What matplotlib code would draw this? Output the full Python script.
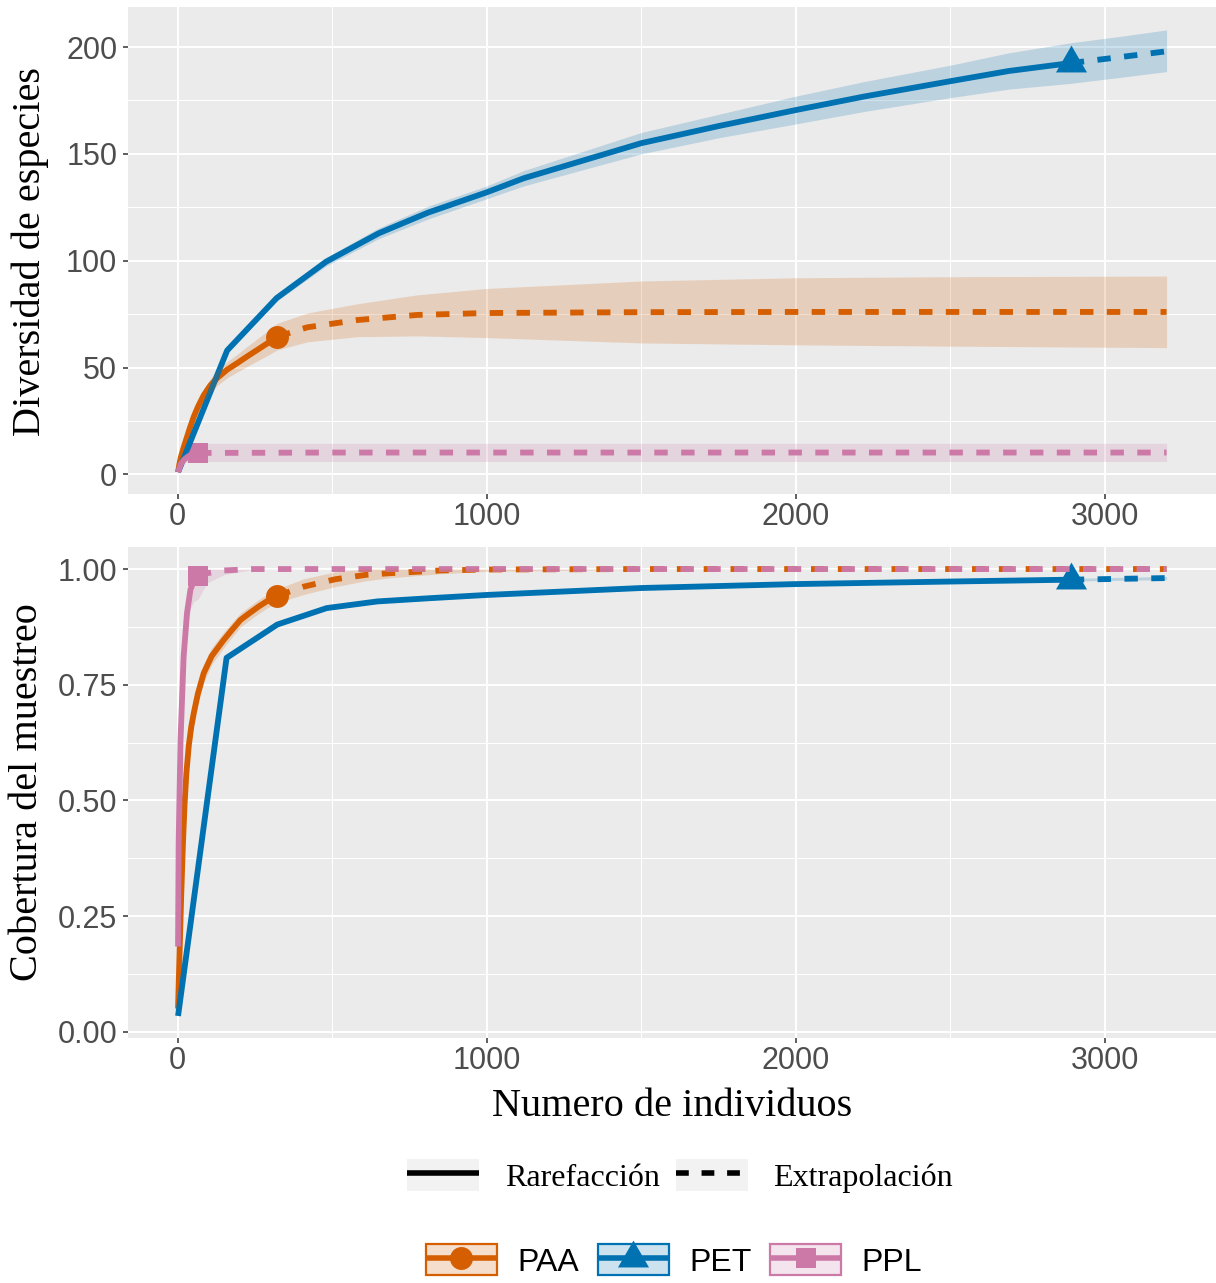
import matplotlib
matplotlib.use('Agg')
import matplotlib.pyplot as plt
from matplotlib.lines import Line2D
from matplotlib.patches import Patch
from matplotlib.legend_handler import HandlerTuple
from matplotlib.ticker import FixedLocator
import matplotlib.colors as mcolors

# ---------------- data ----------------
groups = ["PAA", "PET", "PPL"]
colors = {"PAA": "#D55E00", "PET": "#0072B2", "PPL": "#CC79A7"}

# Species diversity (top panel)
PAA_rare_n = [1, 5, 10, 20, 30, 40, 52, 65, 84, 105, 127, 160, 192, 225, 257, 290, 322]
PAA_rare_S = [1, 4.5, 8, 13, 17.5, 22, 27, 31.5, 37, 41.5, 45, 49, 52, 55.2, 58.2, 61.3, 64.4]
PAA_rare_lo = [1, 4.2, 7.4, 12, 16, 20.2, 24.8, 29, 34, 38.3, 41.5, 45.2, 47.8, 50.5, 53, 55.6, 58.2]
PAA_rare_hi = [1, 4.8, 8.6, 14, 19, 23.8, 29.2, 34, 40, 44.7, 48.5, 52.8, 56.2, 59.9, 63.4, 67, 70.7]
PAA_ext_n = [322, 419, 580, 775, 1000, 1500, 2000, 2500, 3200]
PAA_ext_S = [64.4, 68.8, 72.2, 74.6, 75.5, 75.9, 76.0, 76.0, 76.0]
PAA_ext_lo = [58.2, 62.0, 64.4, 64.8, 64.0, 61.5, 60.6, 60.0, 59.3]
PAA_ext_hi = [70.7, 75.5, 79.8, 84.0, 87.0, 90.5, 92.0, 92.5, 92.8]

PET_rare_n = [1, 160, 320, 480, 650, 810, 1000, 1120, 1500, 1750, 2000, 2220, 2500, 2690, 2890]
PET_rare_S = [1, 58, 82.5, 99.5, 112.8, 122.5, 132, 138.6, 155, 163, 170.5, 176.8, 184, 188.8, 192.5]
PET_rare_lo = [1, 57, 81, 97.5, 110.3, 119.5, 129, 135, 150, 157.5, 164, 169.8, 176.3, 180.3, 183]
PET_rare_hi = [1, 59, 84, 101.5, 115.3, 125.5, 135, 142.2, 160, 168.5, 177, 183.8, 191.5, 197.3, 202]
PET_ext_n = [2890, 3050, 3200]
PET_ext_S = [192.5, 195.3, 198]
PET_ext_lo = [183, 185.8, 188.5]
PET_ext_hi = [202, 205, 208]

PPL_rare_n = [1, 10, 20, 30, 40, 50, 66]
PPL_rare_S = [1, 4.8, 6.8, 8.0, 8.9, 9.4, 10.0]
PPL_rare_lo = [1, 4.0, 5.4, 5.9, 6.0, 6.0, 6.0]
PPL_rare_hi = [1, 5.6, 8.6, 10.5, 12.0, 13.3, 14.5]
PPL_ext_n = [66, 500, 1000, 2000, 3200]
PPL_ext_S = [10.0, 10.2, 10.2, 10.2, 10.2]
PPL_ext_lo = [6.0, 6.0, 6.0, 6.0, 6.0]
PPL_ext_hi = [14.5, 14.5, 14.5, 14.5, 14.5]

# Sample coverage (bottom panel)
PAA_cov_rare_n = [1, 3, 6.5, 11, 17, 22, 28, 36, 44, 52, 65, 84, 110, 149, 175, 203, 235, 262, 290, 322]
PAA_cov_rare = [0.05, 0.10, 0.184, 0.29, 0.41, 0.49, 0.559, 0.62, 0.66, 0.689, 0.73, 0.775,
                0.812, 0.847, 0.868, 0.89, 0.906, 0.919, 0.931, 0.942]
PAA_cov_rare_lo = [0.05, 0.09, 0.164, 0.265, 0.38, 0.46, 0.529, 0.592, 0.634, 0.664, 0.708, 0.755,
                   0.794, 0.83, 0.852, 0.875, 0.891, 0.904, 0.916, 0.927]
PAA_cov_rare_hi = [0.05, 0.11, 0.204, 0.315, 0.44, 0.52, 0.589, 0.648, 0.686, 0.714, 0.752, 0.795,
                   0.830, 0.864, 0.884, 0.905, 0.921, 0.934, 0.946, 0.957]
PAA_cov_ext_n = [322, 408, 510, 612, 686, 853, 1000, 1500, 3200]
PAA_cov_ext = [0.942, 0.962, 0.978, 0.9877, 0.991, 0.997, 0.999, 1.0, 1.0]
PAA_cov_ext_lo = [0.927, 0.945, 0.962, 0.975, 0.981, 0.99, 0.995, 0.999, 1.0]
PAA_cov_ext_hi = [0.957, 0.979, 0.994, 1.0, 1.0, 1.0, 1.0, 1.0, 1.0]

PET_cov_rare_n = [1, 158, 322, 482, 646, 816, 1000, 1500, 2000, 2500, 2890]
PET_cov_rare = [0.034, 0.808, 0.88, 0.9156, 0.93, 0.937, 0.944, 0.959, 0.9675, 0.973, 0.977]
PET_cov_rare_lo = [0.034, 0.804, 0.876, 0.912, 0.927, 0.934, 0.941, 0.956, 0.964, 0.970, 0.974]
PET_cov_rare_hi = [0.034, 0.812, 0.884, 0.919, 0.933, 0.940, 0.947, 0.962, 0.971, 0.976, 0.980]
PET_cov_ext_n = [2890, 3200]
PET_cov_ext = [0.977, 0.9805]
PET_cov_ext_lo = [0.974, 0.977]
PET_cov_ext_hi = [0.980, 0.984]

PPL_cov_rare_n = [1, 3, 9, 19, 30, 41, 52, 66]
PPL_cov_rare = [0.184, 0.41, 0.63, 0.81, 0.905, 0.955, 0.975, 0.985]
PPL_cov_rare_lo = [0.184, 0.39, 0.60, 0.77, 0.865, 0.915, 0.93, 0.935]
PPL_cov_rare_hi = [0.184, 0.43, 0.66, 0.85, 0.945, 0.99, 1.0, 1.0]
PPL_cov_ext_n = [66, 95, 150, 245, 500, 3200]
PPL_cov_ext = [0.985, 0.991, 0.997, 1.0, 1.0, 1.0]
PPL_cov_ext_lo = [0.935, 0.97, 0.988, 0.999, 1.0, 1.0]
PPL_cov_ext_hi = [1.0, 1.0, 1.0, 1.0, 1.0, 1.0]

x_ticks = [0, 1000, 2000, 3000]
y1_ticks = [0, 50, 100, 150, 200]
y2_ticks = [0.0, 0.25, 0.5, 0.75, 1.0]
y2_ticklabels = ["0.00", "0.25", "0.50", "0.75", "1.00"]
lty_labels = ["Rarefacción", "Extrapolación"]

top_data = {
    "PAA": (PAA_rare_n, PAA_rare_S, PAA_rare_lo, PAA_rare_hi, PAA_ext_n, PAA_ext_S, PAA_ext_lo, PAA_ext_hi),
    "PET": (PET_rare_n, PET_rare_S, PET_rare_lo, PET_rare_hi, PET_ext_n, PET_ext_S, PET_ext_lo, PET_ext_hi),
    "PPL": (PPL_rare_n, PPL_rare_S, PPL_rare_lo, PPL_rare_hi, PPL_ext_n, PPL_ext_S, PPL_ext_lo, PPL_ext_hi),
}
bot_data = {
    "PAA": (PAA_cov_rare_n, PAA_cov_rare, PAA_cov_rare_lo, PAA_cov_rare_hi, PAA_cov_ext_n, PAA_cov_ext, PAA_cov_ext_lo, PAA_cov_ext_hi),
    "PET": (PET_cov_rare_n, PET_cov_rare, PET_cov_rare_lo, PET_cov_rare_hi, PET_cov_ext_n, PET_cov_ext, PET_cov_ext_lo, PET_cov_ext_hi),
    "PPL": (PPL_cov_rare_n, PPL_cov_rare, PPL_cov_rare_lo, PPL_cov_rare_hi, PPL_cov_ext_n, PPL_cov_ext, PPL_cov_ext_lo, PPL_cov_ext_hi),
}

# ---------------- style ----------------
TRI = [(0, 2), (-1.732, -1), (1.732, -1), (0, 2)]
markers = {"PAA": ("o", 16.5), "PET": (TRI, 25.8), "PPL": ("s", 14)}
LW = 4.2
DASH = (0, (2.3, 2.3))
SANS = "Liberation Sans"
SERIF = "Liberation Serif"

W, H = 1216, 1283
fig = plt.figure(figsize=(W / 100, H / 100), dpi=100)
fig.patch.set_facecolor("white")


def fx(px):
    return px / W


def fy(py):
    return 1 - py / H


ax1 = fig.add_axes([fx(128.3), fy(494.3), (1216 - 128.3) / W, (494.3 - 7.3) / H])
ax2 = fig.add_axes([fx(128.3), fy(1038.3), (1216 - 128.3) / W, (1038.3 - 546.7) / H])


def style_axis(ax):
    ax.set_facecolor("#EBEBEB")
    for s in ax.spines.values():
        s.set_visible(False)
    ax.set_axisbelow(True)
    ax.grid(which="major", color="white", lw=1.4)
    ax.grid(which="minor", color="white", lw=0.75)
    ax.tick_params(which="major", length=3.4, width=1.1, color="#333333",
                   labelcolor="#4D4D4D", labelsize=22)
    ax.tick_params(axis="y", pad=4.5)
    ax.tick_params(axis="x", pad=2.0)
    ax.tick_params(which="minor", length=0)
    for lab in ax.get_xticklabels() + ax.get_yticklabels():
        lab.set_fontfamily(SANS)
    ax.set_xlim(-160, 3360)
    ax.set_xticks(x_ticks)
    ax.xaxis.set_minor_locator(FixedLocator([500, 1500, 2500]))


def draw(ax, data):
    # points first, then lines, then ribbons (ggiNEXT layer order)
    for g in groups:
        rn, ry = data[g][0], data[g][1]
        m, ms = markers[g]
        ax.plot([rn[-1]], [ry[-1]], linestyle="none", marker=m, ms=ms,
                color=colors[g], mew=0, zorder=2)
    for g in groups:
        rn, ry, rlo, rhi, en, ey, elo, ehi = data[g]
        ax.plot(rn, ry, color=colors[g], lw=LW, solid_capstyle="butt",
                solid_joinstyle="round", zorder=3)
        ax.plot(en, ey, color=colors[g], lw=LW, ls=DASH, dash_capstyle="butt",
                dash_joinstyle="round", zorder=3)
    for g in groups:
        rn, ry, rlo, rhi, en, ey, elo, ehi = data[g]
        xs = list(rn) + list(en[1:])
        lo = list(rlo) + list(elo[1:])
        hi = list(rhi) + list(ehi[1:])
        ax.fill_between(xs, lo, hi, color=colors[g], alpha=0.2, lw=0, zorder=4)


draw(ax1, top_data)
draw(ax2, bot_data)

ax1.set_ylim(-9.35, 218.6)
ax1.set_yticks(y1_ticks)
ax1.yaxis.set_minor_locator(FixedLocator([25, 75, 125, 175]))
ax2.set_ylim(-0.0143, 1.0483)
ax2.set_yticks(y2_ticks)
ax2.set_yticklabels(y2_ticklabels)
ax2.yaxis.set_minor_locator(FixedLocator([0.125, 0.375, 0.625, 0.875]))
style_axis(ax1)
style_axis(ax2)

# axis titles
fig.text(fx(30), fy(252), "Diversidad de especies", rotation=90, ha="center",
         va="center", fontsize=29, family=SERIF)
fig.text(fx(28), fy(792.5), "Cobertura del muestreo", rotation=90, ha="center",
         va="center", fontsize=29, family=SERIF)
fig.text(fx(672), fy(1107), "Numero de individuos", ha="center", va="center",
         fontsize=29, family=SERIF)

# legend 1: line types
bg = "#F2F2F2"
h_solid = (Patch(facecolor=bg, edgecolor="none"),
           Line2D([], [], color="black", lw=4, solid_capstyle="butt"))
h_dash = (Patch(facecolor=bg, edgecolor="none"),
          Line2D([], [], color="black", lw=4, ls=(0, (2.3, 2.3)), dash_capstyle="butt"))
fig.legend(handles=[h_solid, h_dash], labels=lty_labels,
           handler_map={tuple: HandlerTuple(ndivide=1, pad=0)},
           loc="center", bbox_to_anchor=(fx(680), fy(1176)), ncol=2, frameon=False,
           prop={"family": SERIF, "size": 23}, handlelength=2.26, handleheight=1.16,
           handletextpad=0.8, columnspacing=0.5, borderpad=0, borderaxespad=0)

# legend 2: groups
hs = []
for g in groups:
    c = colors[g]
    rgba = mcolors.to_rgba(c, 0.2)
    m, ms = markers[g]
    hs.append((Patch(facecolor=rgba, edgecolor=c, lw=1.6),
               Line2D([], [], color=c, lw=4, marker=m, ms=ms, mew=0,
                      solid_capstyle="butt")))
fig.legend(handles=hs, labels=groups,
           handler_map={tuple: HandlerTuple(ndivide=1, pad=0)},
           loc="center", bbox_to_anchor=(fx(674), fy(1261)), ncol=3, frameon=False,
           prop={"family": SANS, "size": 23}, handlelength=2.22, handleheight=1.1,
           handletextpad=0.63, columnspacing=0.6, borderpad=0, borderaxespad=0)

fig.savefig("out.png", dpi=100, facecolor="white")
